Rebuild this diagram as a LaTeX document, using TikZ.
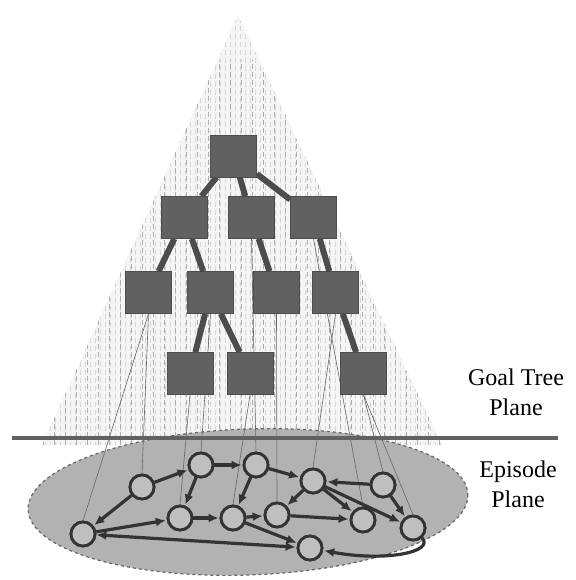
\documentclass[tikz,border=0pt]{standalone}
\usepackage{fontspec}
\setmainfont{Liberation Serif}
\newfontfamily\planefont{Liberation Serif}
\usetikzlibrary{arrows.meta, positioning}

\begin{document}
\begin{tikzpicture}[
  x=1pt, y=-1pt, >={Latex[length=10pt,width=9pt]},
  goal/.style={draw=black!70, line width=0.6pt, fill=black!62, minimum width=46pt, minimum height=42pt, inner sep=0pt},
  epi/.style={circle, draw=black!80, line width=2.8pt, fill=black!25, minimum size=24pt, inner sep=0pt},
  tedge/.style={draw=black!70, line width=6pt},
  eedge/.style={draw=black!80, line width=3.2pt, shorten >=1pt},
  proj/.style={draw=black!60, line width=0.6pt},
  hatch/.style={draw=black!16, line width=0.7pt, dash pattern=on 5pt off 3pt},
  lbl/.style={align=center, font=\planefont\fontsize{24}{30}\selectfont}
  ]
  \useasboundingbox (0,0) rectangle (575,580);
  % cone
  \fill[black!4] (238,15) -- (42,445) -- (442,445) -- cycle;
  \begin{scope}
  \clip (238,15) -- (42,445) -- (442,445) -- cycle;
  \foreach \x in {40,45,...,446} \draw[hatch] (\x,10) -- (\x,450);
  \foreach \x in {43,54,...,446} \draw[hatch, draw=black!32, dash phase=4pt] (\x,60) -- (\x,450);
  \end{scope}
  % episode plane
  \draw[fill=black!30, draw=black!60, dashed, line width=1.2pt, rotate around={2:(248,502)}] (248,502) ellipse [x radius=220, y radius=73];
  % dividing line
  \coordinate (L) at (12,438);
  \coordinate (R) at (558,438);
  \draw[black!62, line width=4pt] (L) -- (R);
  % goal tree
  \node[goal] (gRoot) at (233.5,156) {};
  \node[goal] (gA) at (184.5,217.5) {};
  \node[goal] (gB) at (251.5,217.5) {};
  \node[goal] (gC) at (313.5,217.5) {};
  \node[goal] (gAA) at (148.5,292.5) {};
  \node[goal] (gAB) at (210.5,292.5) {};
  \node[goal] (gBA) at (276.5,292.5) {};
  \node[goal] (gCA) at (335.5,292.5) {};
  \node[goal] (gABA) at (190,373.5) {};
  \node[goal] (gABB) at (250,373.5) {};
  \node[goal] (gCAA) at (363.5,373.5) {};
  % episodes
  \node[epi] (e1) at (83,534) {};
  \node[epi] (e2) at (142,487) {};
  \node[epi] (e3) at (201,465) {};
  \node[epi] (e4) at (256,465) {};
  \node[epi] (e5) at (313,481) {};
  \node[epi] (e6) at (383,485) {};
  \node[epi] (e7) at (180,518) {};
  \node[epi] (e8) at (233,518) {};
  \node[epi] (e9) at (277,515) {};
  \node[epi] (e10) at (363,520) {};
  \node[epi] (e11) at (413,528) {};
  \node[epi] (e12) at (310,548) {};
  % projections
  \foreach \g/\e in {gAA/e1, gAA/e2, gABA/e7, gABB/e8, gB/e4, gBA/e9, gCA/e5, gCAA/e6, gCAA/e11, gC/e10, gAB/e3}
    \draw[proj] (\g.south) -- (\e.north);
  % tree edges
  \foreach \p/\c in {gRoot/gA, gRoot/gB, gRoot/gC, gA/gAA, gA/gAB, gB/gBA, gC/gCA, gAB/gABA, gAB/gABB, gCA/gCAA}
    \draw[tedge] (\p) -- (\c);
  \foreach \n in {gRoot, gA, gB, gC, gAA, gAB, gBA, gCA, gABA, gABB, gCAA}
    \node[goal] at (\n) {};
  % episode edges
  \foreach \a/\b in {e2/e1, e1/e7, e2/e3, e3/e4, e3/e7, e4/e8, e7/e8, e8/e9, e4/e5, e5/e9, e9/e10, e6/e5, e5/e10, e5/e11, e6/e11, e8/e12}
    \draw[eedge, ->] (\a) -- (\b);
  \draw[eedge, <->] (e1) -- (e12);
  \draw[eedge, ->] (e11) .. controls (435,552) and (385,562) .. (e12);
  \foreach \n in {e1, e2, e3, e4, e5, e6, e7, e8, e9, e10, e11, e12}
    \node[epi] at (\n) {};
  % labels
  \node[lbl] (goalLbl) at (516,392) {Goal Tree\\Plane};
  \node[lbl] (epiLbl) at (518,484) {Episode\\Plane};
\end{tikzpicture}
\end{document}
